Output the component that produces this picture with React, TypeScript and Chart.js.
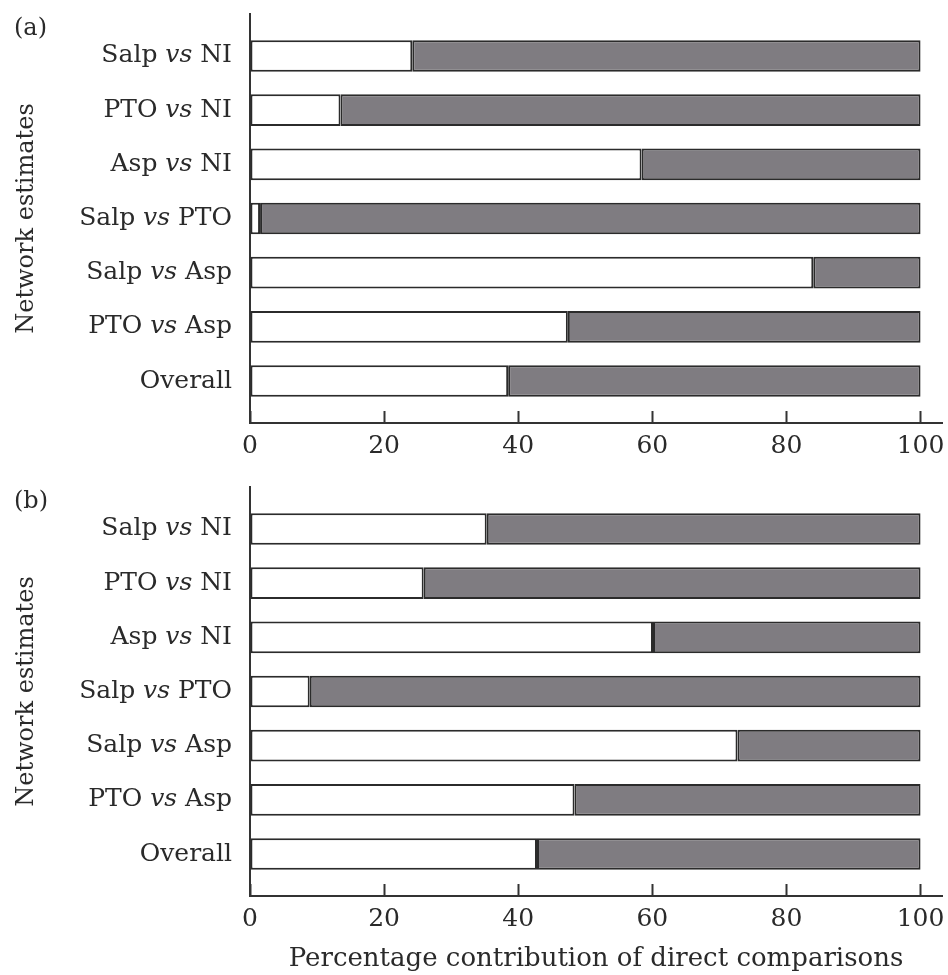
import React, { useEffect, useRef } from "react";
import { Chart, registerables } from "chart.js";

Chart.register(...registerables);

const categories = [
  "Salp vs NI",
  "PTO vs NI",
  "Asp vs NI",
  "Salp vs PTO",
  "Salp vs Asp",
  "PTO vs Asp",
  "Overall",
];
const directA = [24.2, 13.5, 58.4, 1.5, 84.0, 47.4, 38.5];
const indirectA = [75.8, 86.5, 41.6, 98.5, 16.0, 52.6, 61.5];
const directB = [35.3, 25.9, 60.1, 8.9, 72.7, 48.4, 42.8];
const indirectB = [64.7, 74.1, 39.9, 91.1, 27.3, 51.6, 57.2];
const xTicks = [0, 20, 40, 60, 80, 100];
const panelLabels = ["(a)", "(b)"];
const yTitle = "Network estimates";
const xTitle = "Percentage contribution of direct comparisons";

const FONT = "'DejaVu Serif', 'Liberation Serif', serif";
const INK = "#2a2a2a";

const yLabelPlugin = {
  id: "yLabels",
  afterDraw(chart: any) {
    const ys = chart.scales.y;
    const ctx = chart.ctx;
    const normal = `25px ${FONT}`;
    const italic = `italic 25px ${FONT}`;
    ctx.save();
    ctx.fillStyle = INK;
    ctx.textBaseline = "middle";
    ctx.textAlign = "left";
    const right = ys.right - 18;
    categories.forEach((lab, i) => {
      const y = ys.getPixelForValue(i);
      const parts = lab.split(" vs ");
      const pieces: [string, string][] =
        parts.length === 2
          ? [
              [parts[0] + " ", normal],
              ["vs", italic],
              [" " + parts[1], normal],
            ]
          : [[lab, normal]];
      let total = 0;
      const widths = pieces.map(([t, f]) => {
        ctx.font = f;
        const w = ctx.measureText(t).width;
        total += w;
        return w;
      });
      let x = right - total;
      pieces.forEach(([t, f], k) => {
        ctx.font = f;
        ctx.fillText(t, x, y);
        x += widths[k];
      });
    });
    ctx.restore();
  },
};

function makeConfig(direct: number[], indirect: number[], withXTitle: boolean, height: number) {
  return {
    type: "bar" as const,
    data: {
      datasets: [
        {
          label: "Direct",
          data: direct.map((v, i) => ({ x: v, y: i })),
          backgroundColor: "#ffffff",
          borderColor: "#2b2b2b",
          borderWidth: 2,
          borderSkipped: false,
        },
        {
          label: "Indirect",
          data: indirect.map((v, i) => ({ x: v, y: i })),
          backgroundColor: "#7f7c81",
          borderColor: "#2b2b2b",
          borderWidth: 2,
          borderSkipped: false,
        },
      ],
    },
    options: {
      indexAxis: "y" as const,
      animation: false as const,
      responsive: false,
      maintainAspectRatio: false,
      layout: { padding: { top: 14, right: 6, left: 0, bottom: 0 } },
      plugins: { legend: { display: false }, tooltip: { enabled: false } },
      datasets: { bar: { barPercentage: 0.585, categoryPercentage: 1 } },
      scales: {
        x: {
          type: "linear" as const,
          stacked: true,
          offset: false,
          min: 0,
          max: 103.2,
          afterBuildTicks: (s: any) => {
            s.ticks = xTicks.map((v) => ({ value: v }));
          },
          afterFit: (s: any) => {
            s.height = height - 423;
            s.paddingLeft = 0;
            s.paddingRight = 0;
          },
          grid: {
            drawOnChartArea: false,
            drawTicks: true,
            tickLength: -12,
            tickWidth: 2,
            tickColor: "#333",
          },
          border: { display: true, color: "#333", width: 2 },
          ticks: {
            font: { family: FONT, size: 25 },
            color: INK,
            padding: 20,
            maxRotation: 0,
          },
          title: {
            display: withXTitle,
            text: xTitle,
            font: { family: FONT, size: 26 },
            color: INK,
            padding: { top: 0, bottom: 0 },
          },
        },
        y: {
          type: "linear" as const,
          stacked: true,
          reverse: true,
          offset: false,
          min: -0.775,
          max: 6.775,
          afterBuildTicks: (s: any) => {
            s.ticks = categories.map((_, i) => ({ value: i }));
          },
          afterFit: (s: any) => {
            s.width = 250;
          },
          grid: { drawOnChartArea: false, drawTicks: false, offset: false },
          border: { display: true, color: "#333", width: 2 },
          ticks: { display: false },
          title: {
            display: true,
            text: yTitle,
            font: { family: FONT, size: 24 },
            color: INK,
            padding: { top: 12, bottom: 0 },
          },
        },
      },
    },
    plugins: [yLabelPlugin],
  };
}

function Panel({
  direct,
  indirect,
  label,
  top,
  height,
  withXTitle,
}: {
  direct: number[];
  indirect: number[];
  label: string;
  top: number;
  height: number;
  withXTitle: boolean;
}) {
  const ref = useRef<HTMLCanvasElement | null>(null);
  useEffect(() => {
    if (!ref.current) return;
    const chart = new Chart(ref.current, makeConfig(direct, indirect, withXTitle, height) as any);
    return () => chart.destroy();
  }, []);
  return (
    <div style={{ position: "absolute", left: 0, top, width: 948, height }}>
      <canvas ref={ref} width={948} height={height} style={{ display: "block" }} />
      <div
        style={{
          position: "absolute",
          left: 14,
          top: 12,
          fontFamily: FONT,
          fontSize: 24,
          color: INK,
          lineHeight: "30px",
        }}
      >
        {label}
      </div>
    </div>
  );
}

export default function App() {
  return (
    <div style={{ position: "absolute", left: 0, top: 0, width: 948, height: 975, background: "#fff" }}>
      <Panel direct={directA} indirect={indirectA} label={panelLabels[0]} top={0} height={473} withXTitle={false} />
      <Panel direct={directB} indirect={indirectB} label={panelLabels[1]} top={473} height={502} withXTitle={true} />
    </div>
  );
}
